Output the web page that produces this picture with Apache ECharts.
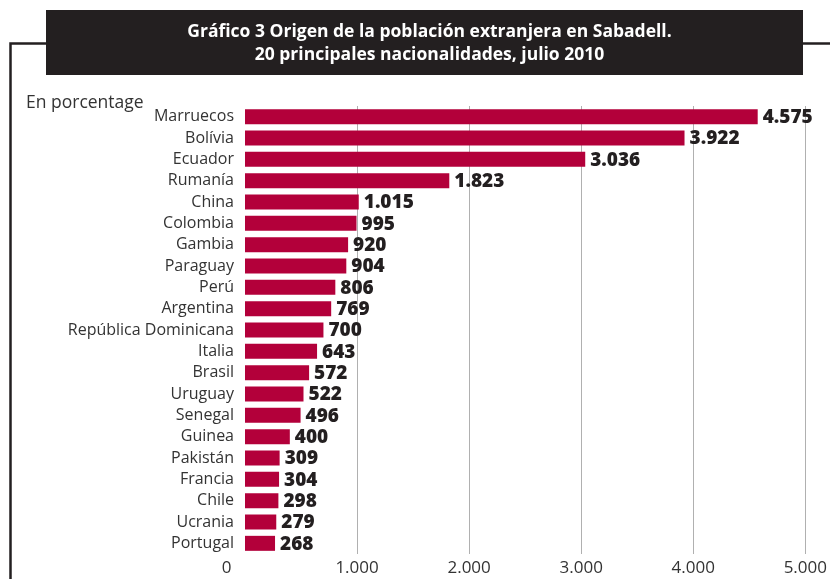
<!DOCTYPE html>
<html>
<head>
<meta charset="utf-8">
<script src="https://cdn.jsdelivr.net/npm/echarts@6/dist/echarts.min.js"></script>
<style>
html,body{margin:0;padding:0;background:#fff;}
#chart{width:830px;height:579px;}
</style>
</head>
<body>
<div id="chart"></div>
<script>
const categories = ["Marruecos","Bolívia","Ecuador","Rumanía","China","Colombia","Gambia","Paraguay","Perú","Argentina","República Dominicana","Italia","Brasil","Uruguay","Senegal","Guinea","Pakistán","Francia","Chile","Ucrania","Portugal"];
const values = [4575,3922,3036,1823,1015,995,920,904,806,769,700,643,572,522,496,400,309,304,298,279,268];
const tickValues = [0,1000,2000,3000,4000,5000];
const titleLines = ["Gráfico 3 Origen de la población extranjera en Sabadell.","20 principales nacionalidades, julio 2010"];
const subtitle = "En porcentage";

function fmt(v){ return String(v).replace(/\B(?=(\d{3})+(?!\d))/g, "."); }

const chart = echarts.init(document.getElementById('chart'));
const FONT = "'Open Sans', 'Noto Sans', sans-serif";
chart.setOption({
  animation:false,
  backgroundColor:'#fff',
  title:[
    {text: titleLines.join('\n'), left:424.5, top:16, textAlign:'center',
     textStyle:{color:'#fff', fontFamily:FONT, fontWeight:'bold', fontSize:17.5, lineHeight:23}},
    {text: subtitle, left:21, top:89,
     textStyle:{color:'#333', fontFamily:FONT, fontWeight:'normal', fontSize:17.5}}
  ],
  graphic:[
    {type:'polyline', z:-1, shape:{points:[[10.5,600],[10.5,43.5],[46,43.5]]}, style:{stroke:'#231f20', lineWidth:2.5, fill:null}},
    {type:'line', z:-1, shape:{x1:803,y1:43.5,x2:840,y2:43.5}, style:{stroke:'#231f20', lineWidth:2.5}},
    {type:'rect', z:-1, shape:{x:46,y:10,width:757,height:65}, style:{fill:'#231f20'}}
  ],
  grid:{left:245, right:17, top:106, bottom:25, containLabel:false},
  xAxis:{
    type:'value', min:0, max:5000, interval:1000,
    axisLine:{show:false}, axisTick:{show:false},
    splitLine:{show:true, showMinLine:false, lineStyle:{color:'#b0b0b0', width:1}},
    axisLabel:{
      margin:6, color:'#333', fontFamily:FONT, fontSize:17,
      formatter:function(v){ return v===0 ? '{z|0}' : fmt(v); },
      rich:{z:{fontFamily:FONT, fontSize:17, color:'#333', padding:[0,37,0,0]}}
    }
  },
  yAxis:{
    type:'category', data:categories, inverse:true,
    axisLine:{show:false}, axisTick:{show:false}, splitLine:{show:false},
    axisLabel:{margin:11, color:'#333', fontFamily:FONT, fontSize:16}
  },
  series:[{
    type:'bar', data:values, barWidth:15,
    itemStyle:{color:'#b3003a'},
    label:{show:true, position:'right', distance:5, offset:[0,1], color:'#231f20',
      fontFamily:FONT, fontWeight:800, fontSize:19,
      formatter:function(p){ return fmt(p.value); }}
  }]
});
</script>
</body>
</html>
